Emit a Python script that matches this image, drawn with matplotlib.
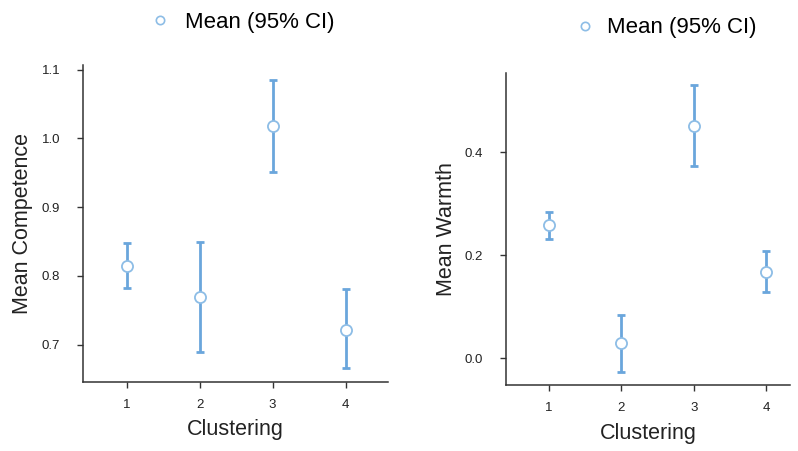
import numpy as np
import matplotlib.pyplot as plt
from matplotlib.lines import Line2D

plt.rcParams['font.family'] = ['Liberation Sans', 'DejaVu Sans']

# ---- 数据 ----
clusters = [1, 2, 3, 4]

comp_mean = [0.815, 0.770, 1.018, 0.722]
comp_low = [0.782, 0.690, 0.951, 0.666]
comp_high = [0.848, 0.850, 1.085, 0.781]

warm_mean = [0.259, 0.029, 0.451, 0.168]
warm_low = [0.231, -0.026, 0.373, 0.129]
warm_high = [0.285, 0.084, 0.530, 0.208]

comp_ticks = [0.7, 0.8, 0.9, 1.0, 1.1]
warm_ticks = [0.0, 0.2, 0.4]

BAR_C = '#6aa6dc'
EDGE_C = '#8dbde6'
AXIS_C = '#333333'


def draw_panel(ax, mean, low, high, ylabel, yticks, ylim, xlim, fmt):
    mean = np.array(mean)
    yerr = [mean - np.array(low), np.array(high) - mean]
    ax.errorbar(clusters, mean, yerr=yerr, fmt='none', ecolor=BAR_C,
                elinewidth=2, capsize=3, capthick=2, zorder=2)
    ax.plot(clusters, mean, 'o', ms=8, mfc='white', mec=EDGE_C, mew=1.3,
            zorder=3)
    ax.set_xlim(*xlim)
    ax.set_ylim(*ylim)
    ax.set_xticks(clusters)
    ax.set_yticks(yticks)
    ax.set_yticklabels([fmt.format(v) for v in yticks])
    ax.set_xlabel('Clustering', fontsize=15.5, color='#222222', labelpad=6)
    ax.set_ylabel(ylabel, fontsize=15.5, color='#222222', labelpad=6)
    for s in ['top', 'right']:
        ax.spines[s].set_visible(False)
    for s in ['left', 'bottom']:
        ax.spines[s].set_color(AXIS_C)
        ax.spines[s].set_linewidth(1.1)
    ax.tick_params(colors=AXIS_C, labelsize=9.5, length=4.3, width=1,
                   labelcolor='#222222')
    ax.tick_params(axis='y', pad=12)
    ax.tick_params(axis='x', pad=8)


fig = plt.figure(figsize=(7.98, 4.51), dpi=100)

ax1 = fig.add_axes([0.104, 0.153, 0.382, 0.703])
draw_panel(ax1, comp_mean, comp_low, comp_high, 'Mean Competence',
           comp_ticks, (0.6457, 1.107), (0.40, 4.58), '{:.1f}')

ax2 = fig.add_axes([0.634, 0.146, 0.356, 0.693])
draw_panel(ax2, warm_mean, warm_low, warm_high, 'Mean Warmth',
           warm_ticks, (-0.052, 0.555), (0.405, 4.33), '{:.1f}')

# ---- 图例 ----
handle = Line2D([], [], ls='none', marker='o', ms=6, mfc='white',
                mec=EDGE_C, mew=1.2)
fig.legend([handle], ['Mean (95% CI)'], loc='center left',
           bbox_to_anchor=(0.1617, 0.951), frameon=False, fontsize=16,
           handletextpad=0.63, handlelength=1.0)
fig.legend([handle], ['Mean (95% CI)'], loc='center left',
           bbox_to_anchor=(0.694, 0.938), frameon=False, fontsize=16,
           handletextpad=0.49, handlelength=1.0)

plt.savefig('out.png', dpi=100)
